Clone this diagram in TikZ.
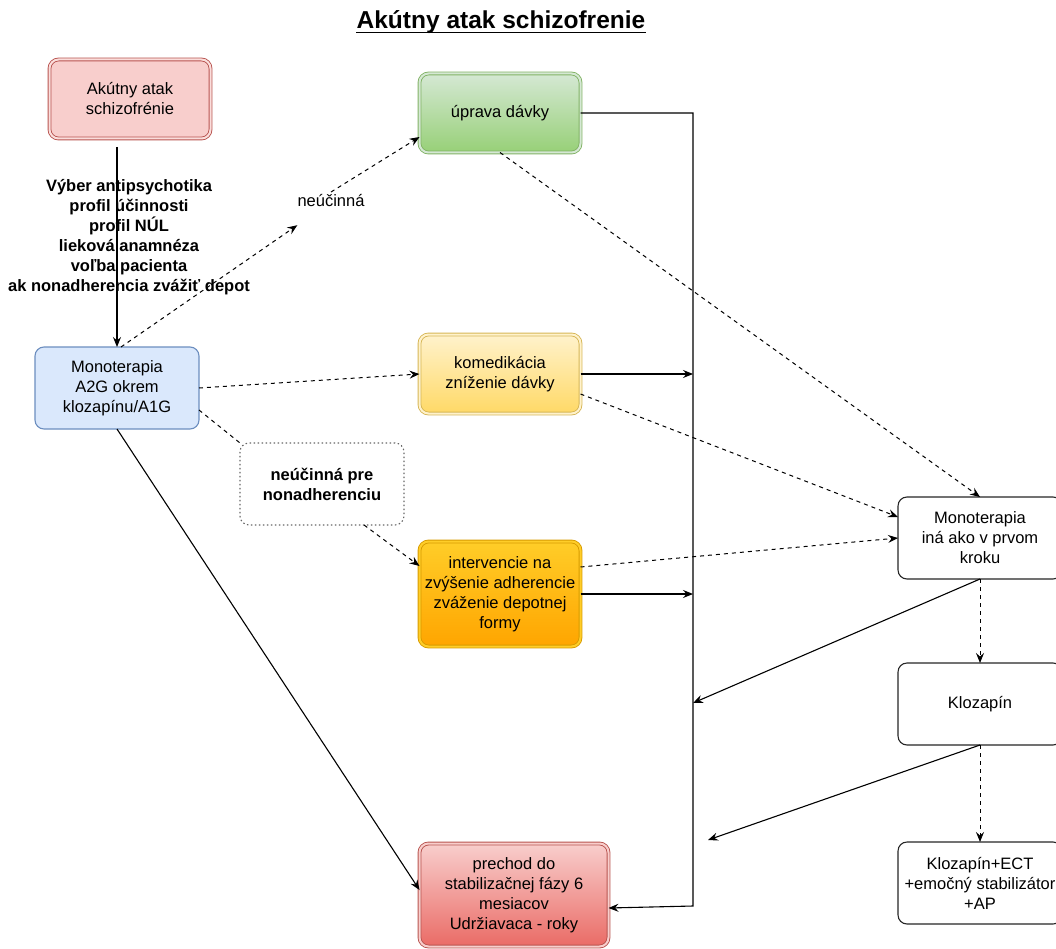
\documentclass[tikz,border=0pt]{standalone}
\usepackage{fontspec}
\setmainfont{Liberation Sans}
\definecolor{startfill}{HTML}{F8CECC}
\definecolor{startline}{HTML}{B85450}
\definecolor{monofill}{HTML}{DAE8FC}
\definecolor{monoline}{HTML}{6C8EBF}
\definecolor{greentop}{HTML}{D5E8D4}
\definecolor{greenbot}{HTML}{97D077}
\definecolor{greenline}{HTML}{82B366}
\definecolor{yellowtop}{HTML}{FFF2CC}
\definecolor{yellowbot}{HTML}{FFD966}
\definecolor{yellowline}{HTML}{D6B656}
\definecolor{orangetop}{HTML}{FFCD28}
\definecolor{orangebot}{HTML}{FFA500}
\definecolor{orangeline}{HTML}{D79B00}
\definecolor{redbot}{HTML}{EA6B66}
\usetikzlibrary{arrows.meta,positioning}
\newcommand{\boxfont}{\fontsize{16.5}{20}\selectfont}
\newcommand{\titlefont}{\fontsize{24.5}{29}\selectfont\bfseries}

\begin{document}
\begin{tikzpicture}[
  x=1pt,y=-1pt,
  box/.style={draw,rounded corners=9pt,minimum width=164pt,minimum height=82pt,align=center,font=\boxfont,inner sep=2pt,outer sep=0pt,line width=1.1pt},
  dblbox/.style={box,double,line width=0.9pt,double distance=2pt,minimum width=161pt,minimum height=79pt},
  startbox/.style={dblbox,fill=startfill,draw=startline,double=startfill!70!white},
  monobox/.style={box,fill=monofill,draw=monoline},
  dosebox/.style={dblbox,top color=greentop,bottom color=greenbot,draw=greenline,double=greentop},
  comedbox/.style={dblbox,top color=yellowtop,bottom color=yellowbot,draw=yellowline,double=yellowtop},
  adherbox/.style={dblbox,top color=orangetop,bottom color=orangebot,draw=orangeline,double=orangetop},
  stabbox/.style={dblbox,top color=startfill,bottom color=redbot,draw=startline,double=startfill},
  stepbox/.style={box,fill=white,draw=black!85},
  notebox/.style={box,draw=black!60,dash pattern=on 1.5pt off 2.5pt,font=\boxfont\bfseries},
  sel/.style={align=center,font=\boxfont\bfseries,inner sep=0pt},
  arrow/.style={-{Stealth[length=10pt,width=8pt,inset=3.5pt]},line width=1.1pt},
  dline/.style={line width=1pt,dash pattern=on 4pt off 4pt}
]
  \useasboundingbox (0,0) rectangle (1056,949);
  \node[font=\titlefont,anchor=base,inner sep=0pt] (title) at (501,29) {Akútny atak schizofrenie};
  \draw[line width=1.6pt] ([yshift=-3.5pt]title.base west) -- ([yshift=-3.5pt]title.base east);

  \node[startbox] (start) at (130,99) {Akútny atak\\schizofrénie};
  \node[monobox] (mono) at (117,388) {Monoterapia\\A2G okrem\\klozapínu/A1G};
  \node[dosebox] (dose) at (500,113) {úprava dávky};
  \node[comedbox,below=182pt of dose] (comed) {komedikácia\\zníženie dávky};
  \node[adherbox,below=128pt of comed,minimum height=105pt] (adher) {intervencie na\\zvýšenie adherencie\\zváženie depotnej\\formy};
  \node[stabbox,below=197pt of adher.south west,anchor=north west,minimum width=189pt,minimum height=103pt] (stab) {prechod do\\stabilizačnej fázy 6\\mesiacov\\Udržiavaca - roky};
  \node[notebox] (nonadh) at (322,484) {neúčinná pre\\nonadherenciu};
  \node[font=\boxfont,inner xsep=0pt,minimum height=48pt] (neu) at (331,201) {neúčinná};
  \node[stepbox] (mono2) at (980,538) {Monoterapia\\iná ako v prvom\\kroku};
  \node[stepbox,below=84pt of mono2] (kloz) {Klozapín};
  \node[stepbox,below=97pt of kloz] (ect) {Klozapín+ECT\\+emočný stabilizátor\\+AP};

  \coordinate (selsrc) at (117,147);
  \coordinate (busend) at (693,906);
  \coordinate (busjoin) at (693,703);
  \coordinate (klozend) at (708,840);

  \draw[arrow] (selsrc) -- node[sel,pos=0.45,xshift=12pt] {Výber antipsychotika\\profil účinnosti\\profil NÚL\\lieková anamnéza\\voľba pacienta\\ak nonadherencia zvážiť depot} (mono.north);
  \draw[arrow,dline] ([xshift=4pt]mono.north) -- (neu.south west);
  \draw[arrow,dline] ([yshift=9pt]neu.center) -- ([yshift=-24pt]dose.west);
  \draw[arrow,dline] (mono.east) -- (comed.west);
  \draw[dline] ([yshift=-22pt]mono.east) -- (nonadh.north west);
  \draw[arrow,dline] ([xshift=-40pt]nonadh.south east) -- ([yshift=28pt]adher.west);
  \draw[arrow] (mono.south) -- ([yshift=5pt]stab.west);

  \draw[arrow] (dose.east) -| (busend) -- ([yshift=-13pt]stab.east);
  \draw[arrow] (comed.east) -- (comed.east -| busend);
  \draw[arrow] (adher.east) -- (adher.east -| busend);

  \draw[arrow,dline] (dose.south) -- (mono2.north);
  \draw[arrow,dline] ([yshift=-20pt]comed.east) -- ([yshift=21pt]mono2.west);
  \draw[arrow,dline] ([yshift=27pt]adher.east) -- (mono2.west);
  \draw[arrow,dline] (mono2.south) -- (kloz.north);
  \draw[arrow,dline] (kloz.south) -- (ect.north);
  \draw[arrow] (mono2.south) -- (busjoin);
  \draw[arrow] (kloz.south) -- (klozend);
\end{tikzpicture}
\end{document}
